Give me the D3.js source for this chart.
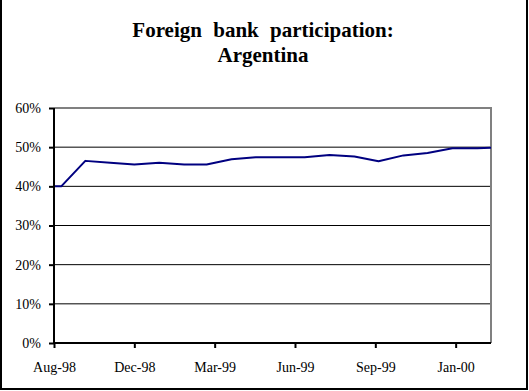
<!DOCTYPE html>
<html>
<head>
<meta charset="utf-8">
<script src="https://cdn.jsdelivr.net/npm/d3@7/dist/d3.min.js"></script>
<style>
  html, body { margin: 0; padding: 0; background: #fff; }
  svg { display: block; }
  text { font-family: "Liberation Serif", "Times New Roman", serif; fill: #000; }
</style>
</head>
<body>
<div id="chart"></div>
<script>
// monthly observations (first and last fall just outside the axis range)
const months = ['1998-08-01', '1998-09-01', '1998-10-01', '1998-11-01', '1998-12-01',
    '1999-01-01', '1999-02-01', '1999-03-01', '1999-04-01', '1999-05-01', '1999-06-01',
    '1999-07-01', '1999-08-01', '1999-09-01', '1999-10-01', '1999-11-01', '1999-12-01',
    '2000-01-01', '2000-02-01', '2000-03-01']
const share = [0.400, 0.400, 0.465, 0.460, 0.456, 0.460, 0.456, 0.456, 0.469, 0.474,
    0.474, 0.474, 0.480, 0.476, 0.464, 0.479, 0.485, 0.497, 0.497, 0.500]

// axis
const tickDates = ['1998-08-23', '1998-12-01', '1999-03-11', '1999-06-19', '1999-09-27', '2000-01-05']
const tickLabels = ['Aug-98', 'Dec-98', 'Mar-99', 'Jun-99', 'Sep-99', 'Jan-00']
const axisEnd = '2000-02-18'
const yTicks = [0, 0.1, 0.2, 0.3, 0.4, 0.5, 0.6]

const titleLines = ['Foreign bank participation:', 'Argentina']

const W = 529, H = 391
const plot = { left: 54, right: 491, top: 108, bottom: 343 }

const parse = d3.timeParse('%Y-%m-%d')
const data = months.map((m, i) => ({ date: parse(m), value: share[i] }))

const svg = d3.select('#chart').append('svg')
    .attr('width', W)
    .attr('height', H)

// outer frame (top edge sits off the picture)
svg.append('rect')
    .attr('x', 1)
    .attr('y', -5)
    .attr('width', 526)
    .attr('height', 394)
    .attr('fill', 'none')
    .attr('stroke', '#000')
    .attr('stroke-width', 2)

const title = svg.append('text')
    .attr('text-anchor', 'middle')
    .style('font-size', '21px')
    .style('font-weight', 'bold')
    .style('word-spacing', '6px')
titleLines.forEach((t, i) => {
    title.append('tspan')
        .attr('x', 263)
        .attr('y', 37 + i * 25)
        .text(t)
})

const xScale = d3.scaleTime()
    .domain([parse(tickDates[0]), parse(axisEnd)])
    .range([plot.left, plot.right])

const yScale = d3.scaleLinear()
    .domain([0, 0.6])
    .range([plot.bottom, plot.top])

// gridlines
svg.append('g')
    .selectAll('line')
    .data(yTicks.slice(1))
    .join('line')
    .attr('x1', plot.left)
    .attr('x2', plot.right)
    .attr('y1', d => yScale(d))
    .attr('y2', d => yScale(d))
    .attr('stroke', '#000')
    .attr('stroke-width', 1)

// top and right border of the plot area in grey
svg.append('path')
    .attr('d', `M${plot.left},${plot.top}H${plot.right}V${plot.bottom}`)
    .attr('fill', 'none')
    .attr('stroke', '#808080')
    .attr('stroke-width', 2)

svg.append('clipPath')
    .attr('id', 'plotClip')
    .append('rect')
    .attr('x', plot.left)
    .attr('y', plot.top - 2)
    .attr('width', plot.right - plot.left)
    .attr('height', plot.bottom - plot.top + 4)

const line = d3.line()
    .x(d => xScale(d.date))
    .y(d => yScale(d.value))

svg.append('path')
    .datum(data)
    .attr('clip-path', 'url(#plotClip)')
    .attr('d', line)
    .attr('fill', 'none')
    .attr('stroke', '#000080')
    .attr('stroke-width', 2)
    .attr('stroke-linejoin', 'round')

const yAxis = d3.axisLeft(yScale)
    .tickValues(yTicks)
    .tickFormat(d3.format('.0%'))
    .tickSize(5)
    .tickPadding(8)

const xAxis = d3.axisBottom(xScale)
    .tickValues(tickDates.map(parse))
    .tickFormat((d, i) => tickLabels[i])
    .tickSize(5)
    .tickPadding(14)

const gy = svg.append('g')
    .attr('transform', `translate(${plot.left},0)`)
    .call(yAxis)

const gx = svg.append('g')
    .attr('transform', `translate(0,${plot.bottom})`)
    .call(xAxis)

;[gx, gy].forEach(g => {
    g.select('.domain').attr('stroke', '#000').attr('stroke-width', 2)
    g.selectAll('.tick line').attr('stroke', '#000').attr('stroke-width', 2)
    g.selectAll('.tick text')
        .style('font-family', '"Liberation Serif", "Times New Roman", serif')
        .style('font-size', '14px')
})
gx.select('.domain').attr('d', `M${plot.left},0H${plot.right}`)
gy.select('.domain').attr('d', `M0,${plot.bottom}V${plot.top}`)
</script>
</body>
</html>
